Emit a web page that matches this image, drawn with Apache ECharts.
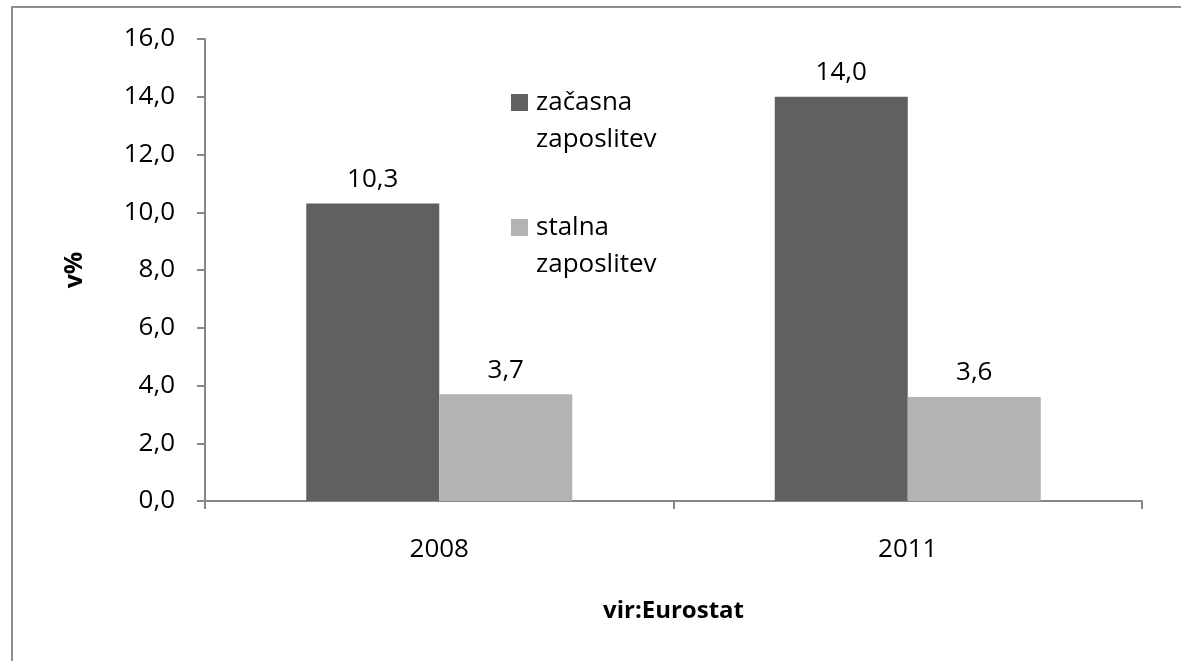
<!DOCTYPE html>
<html>
<head>
<meta charset="utf-8">
<script src="https://cdn.jsdelivr.net/npm/echarts@6/dist/echarts.min.js"></script>
<style>
html,body{margin:0;padding:0;background:#fff;}
#chart{width:1181px;height:661px;}
</style>
</head>
<body>
<div id="chart"></div>
<script>
var categories = ['2008', '2011'];
var seriesNames = ['začasna\nzaposlitev', 'stalna\nzaposlitev'];
var temporary = [10.3, 14.0];
var permanent = [3.7, 3.6];
var yTicks = {min: 0, max: 16, interval: 2};
var yAxisName = 'v%';
var xAxisName = 'vir:Eurostat';

var FONT = '"Open Sans", sans-serif';
var FS = 26;
var chart = echarts.init(document.getElementById('chart'));
function fmt(v){ return v.toFixed(1).replace('.', ','); }
var labelCfg = {
  show: true, position: 'top', distance: 11,
  color: '#000', fontFamily: FONT, fontSize: FS,
  formatter: function(p){ return fmt(p.value); }
};
chart.setOption({
  animation: false,
  backgroundColor: '#fff',
  graphic: [{
    type: 'rect', shape: {x: 12, y: 7, width: 1300, height: 800},
    style: {fill: 'none', stroke: '#8c8c8c', lineWidth: 2}, silent: true
  }],
  grid: {left: 205, right: 39, top: 39, bottom: 160},
  legend: {
    orient: 'vertical', left: 511, top: 47, padding: 0,
    itemWidth: 17, itemHeight: 17, itemGap: 14,
    icon: 'rect',
    data: seriesNames,
    formatter: function(name){ return '\n' + name; },
    textStyle: {
      color: '#000', fontFamily: FONT, fontSize: FS, lineHeight: 37,
      padding: [0, 0, 0, 3]
    }
  },
  xAxis: {
    type: 'category', data: categories,
    name: xAxisName, nameLocation: 'middle', nameGap: 98,
    nameTextStyle: {color: '#000', fontFamily: FONT, fontSize: 24, fontWeight: 'bold'},
    axisLine: {lineStyle: {color: '#868686', width: 2}},
    axisTick: {show: true, length: 8, lineStyle: {color: '#868686', width: 2}},
    axisLabel: {color: '#000', fontFamily: FONT, fontSize: FS, margin: 36}
  },
  yAxis: {
    type: 'value', min: yTicks.min, max: yTicks.max, interval: yTicks.interval,
    name: yAxisName, nameLocation: 'middle', nameGap: 118, nameRotate: 90,
    nameTextStyle: {color: '#000', fontFamily: FONT, fontSize: 25, fontWeight: 'bold'},
    axisLine: {show: true, lineStyle: {color: '#868686', width: 2}},
    axisTick: {show: true, length: 8, lineStyle: {color: '#868686', width: 2}},
    splitLine: {show: false},
    axisLabel: {color: '#000', fontFamily: FONT, fontSize: FS, margin: 30,
      formatter: function(v){ return fmt(v); }}
  },
  series: [
    {name: seriesNames[0], type: 'bar', data: temporary, barWidth: 133, barGap: '0%',
     itemStyle: {color: '#606060'}, label: labelCfg},
    {name: seriesNames[1], type: 'bar', data: permanent, barWidth: 133, barGap: '0%',
     itemStyle: {color: '#b3b3b3'}, label: labelCfg}
  ]
});
</script>
</body>
</html>
